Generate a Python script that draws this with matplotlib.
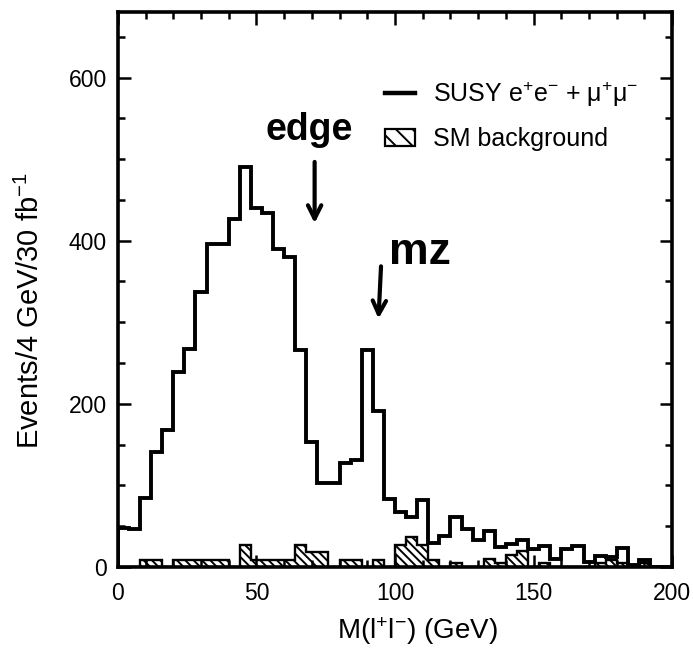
import numpy as np
import matplotlib
matplotlib.use("Agg")
import matplotlib.pyplot as plt
from matplotlib.lines import Line2D
from matplotlib.patches import Patch

plt.rcParams["font.family"] = ["Liberation Sans", "DejaVu Sans"]
plt.rcParams["mathtext.fontset"] = "custom"
plt.rcParams["mathtext.rm"] = "Liberation Sans"
plt.rcParams["mathtext.it"] = "Liberation Sans:italic"
plt.rcParams["hatch.linewidth"] = 1.4

# dilepton invariant mass, 4 GeV bins from 0 to 200 GeV
bin_edges = np.arange(0, 201, 4)

# SUSY e+e- + mu+mu- signal, events per bin
susy_counts = [48, 46, 85, 141, 168, 239, 267, 337, 396, 396,
               427, 490, 440, 434, 390, 380, 266, 153, 103, 103,
               128, 131, 266, 191, 83, 68, 61, 82, 30, 38,
               61, 46, 33, 44, 24, 28, 33, 22, 26, 10,
               22, 26, 6, 14, 12, 23, 2, 8, 0, 0]

# Standard Model background, events per bin
sm_counts = [0, 0, 9, 9, 0, 8, 8, 9, 9, 9,
             0, 27, 9, 9, 9, 9, 27, 19, 19, 0,
             8, 8, 0, 8, 0, 27, 37, 27, 8, 0,
             5, 0, 0, 10, 5, 15, 20, 0, 5, 0,
             0, 0, 0, 5, 8, 5, 0, 5, 0, 0]

x_major = [0, 50, 100, 150, 200]
y_major = [0, 200, 400, 600]

fig = plt.figure(figsize=(6.93, 6.48), dpi=100)
ax = fig.add_axes([0.170, 0.125, 0.800, 0.856])

ax.stairs(sm_counts, bin_edges, fill=True, facecolor="white",
          edgecolor="black", hatch="\\\\\\\\", linewidth=1.7)
ax.stairs(susy_counts, bin_edges, color="black", linewidth=2.8)

ax.set_xlim(0, 200)
ax.set_ylim(0, 680)
ax.set_xticks(x_major)
ax.set_yticks(y_major)
ax.set_xticks(np.arange(0, 201, 10), minor=True)
ax.set_yticks(np.arange(0, 681, 50), minor=True)
ax.tick_params(which="both", direction="in", top=True, right=True,
               width=1.8, labelsize=16.5)
ax.tick_params(which="major", length=9)
ax.tick_params(which="minor", length=5)
ax.tick_params(axis="x", which="major", pad=11)
ax.tick_params(axis="y", which="major", pad=8)
for side in ax.spines.values():
    side.set_linewidth(2.6)

ax.set_xlabel("M(l$^{+}$l$^{-}$) (GeV)", fontsize=20, labelpad=7, x=0.54)
ax.set_ylabel("Events/4 GeV/30 fb$^{-1}$", fontsize=21, labelpad=17, y=0.463)

handles = [Line2D([], [], color="black", linewidth=3.2),
           Patch(facecolor="white", edgecolor="black", hatch="\\\\", linewidth=1.6)]
labels = ["SUSY e$^{+}$e$^{-}$ + μ$^{+}$μ$^{-}$", "SM background"]
ax.legend(handles, labels, loc="upper left", bbox_to_anchor=(0.482, 0.879),
          borderpad=0, borderaxespad=0, frameon=False, fontsize=18,
          handlelength=1.2, handletextpad=0.7, labelspacing=0.75)

# hand-drawn notes marking the kinematic edge and the Z peak
ax.text(69, 536, "edge", fontsize=27, fontweight="heavy", ha="center", va="center")
ax.annotate("", xy=(71, 418), xytext=(71, 500),
            arrowprops=dict(arrowstyle="->", color="black", lw=3,
                            mutation_scale=24))
ax.text(109, 385, "mz", fontsize=32, fontweight="heavy", ha="center", va="center")
ax.annotate("", xy=(94, 301), xytext=(95, 372),
            arrowprops=dict(arrowstyle="->", color="black", lw=3,
                            mutation_scale=24))

fig.savefig("out.png", dpi=100)
